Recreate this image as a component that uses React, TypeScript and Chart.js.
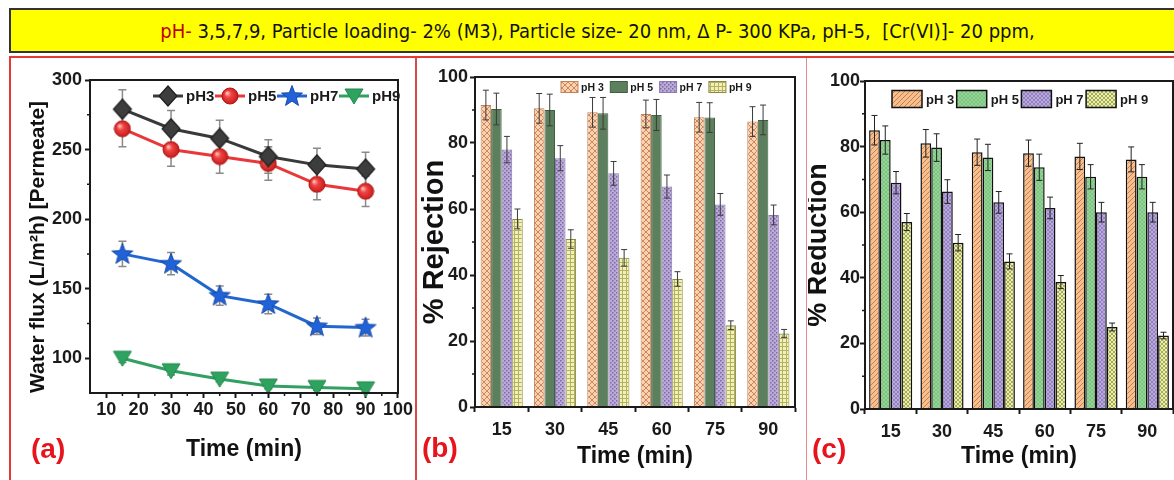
import React, { useEffect, useRef } from 'react';
import { Chart, registerables } from 'chart.js';

Chart.register(...registerables);

// ---------------- data ----------------
const TIME_MIN = [15, 30, 45, 60, 75, 90];
const TIME_LABELS = ['15', '30', '45', '60', '75', '90'];
const NAMES_A = ['pH3', 'pH5', 'pH7', 'pH9'];
const NAMES_BC = ['pH 3', 'pH 5', 'pH 7', 'pH 9'];

const FLUX_PH3 = [279, 265, 258, 245, 239, 236];
const FLUX_PH5 = [265, 250, 245, 240, 225, 220];
const FLUX_PH7 = [175, 168, 145, 139, 123, 122];
const FLUX_PH9 = [100, 91, 85, 80, 79, 78];
const FLUX_ERR_PH3 = [14, 13, 13, 12, 12, 12];
const FLUX_ERR_PH5 = [13, 12, 12, 12, 11, 11];
const FLUX_ERR_PH7 = [9, 8, 7, 7, 6, 6];
const FLUX_ERR_PH9 = [3, 3, 2, 2, 2, 2];

const REJ_PH3 = [91.5, 90.5, 89.3, 88.8, 87.8, 86.5];
const REJ_PH5 = [90.3, 90, 89, 88.5, 87.7, 87];
const REJ_PH7 = [78, 75.4, 70.8, 66.8, 61.4, 58.2];
const REJ_PH9 = [57, 50.9, 45.2, 38.8, 24.8, 22.3];
const REJ_ERR_PH3 = [4.5, 4.5, 4.5, 4.2, 4.5, 4.5];
const REJ_ERR_PH5 = [4.8, 4.8, 4.8, 4.7, 4.5, 4.5];
const REJ_ERR_PH7 = [4, 3.8, 3.6, 3.5, 3.3, 3];
const REJ_ERR_PH9 = [3, 2.8, 2.5, 2.2, 1.3, 1.2];

const RED_PH3 = [85, 81, 78.3, 78, 77, 76.1];
const RED_PH5 = [82, 79.7, 76.7, 73.7, 70.8, 70.8];
const RED_PH7 = [69, 66.3, 63, 61.3, 60, 60];
const RED_PH9 = [57, 50.7, 45, 38.7, 25, 22.4];
const RED_ERR_PH3 = [4.5, 4.2, 4, 4, 4, 3.8];
const RED_ERR_PH5 = [4.3, 4.2, 4, 4, 3.7, 3.7];
const RED_ERR_PH7 = [3.4, 3.6, 3.3, 3.3, 3, 3];
const RED_ERR_PH9 = [2.6, 2.5, 2.3, 2, 1.2, 1];

const FLUX_X_TICKS = [10, 20, 30, 40, 50, 60, 70, 80, 90, 100];
const FLUX_X_MINOR = [15, 25, 35, 45, 55, 65, 75, 85, 95];
const FLUX_Y_TICKS = [100, 150, 200, 250, 300];
const FLUX_Y_MINOR = [125, 175, 225, 275];
const PCT_Y_TICKS = [0, 20, 40, 60, 80, 100];
const PCT_Y_MINOR = [10, 30, 50, 70, 90];

const TITLE_RED = 'pH-';
const TITLE_REST = ' 3,5,7,9, Particle loading- 2% (M3), Particle size- 20 nm, \u0394 P- 300 KPa, pH-5,  [Cr(VI)]- 20 ppm,';

// ---------------- styling ----------------
const NARROW = "'Liberation Sans Narrow', 'Arial Narrow', 'DejaVu Sans Condensed', sans-serif";
const ARIAL = "'Liberation Sans', Arial, sans-serif";
const INK = '#1a1a1a';

function mk(w: number, h: number) {
  const c = document.createElement('canvas');
  c.width = w;
  c.height = h;
  return [c, c.getContext('2d') as CanvasRenderingContext2D] as const;
}

function markerDiamond() {
  const [c, g] = mk(22, 22);
  g.translate(11, 11);
  g.beginPath();
  g.moveTo(0, -10); g.lineTo(9, 0); g.lineTo(0, 10); g.lineTo(-9, 0); g.closePath();
  g.fillStyle = '#3d3d3d'; g.fill();
  g.strokeStyle = '#1f1f1f'; g.lineWidth = 1.2; g.stroke();
  return c;
}
function markerCircle() {
  const [c, g] = mk(18, 18);
  g.translate(9, 9);
  const gr = g.createRadialGradient(-3, -3, 0.5, 0, 0, 8.5);
  gr.addColorStop(0, '#ffc0b8');
  gr.addColorStop(0.35, '#f04444');
  gr.addColorStop(1, '#c21a1a');
  g.beginPath(); g.arc(0, 0, 8, 0, Math.PI * 2);
  g.fillStyle = gr; g.fill();
  g.strokeStyle = '#b01515'; g.lineWidth = 1; g.stroke();
  return c;
}
function markerStar() {
  const [c, g] = mk(24, 24);
  g.translate(12, 12.5);
  g.beginPath();
  for (let i = 0; i < 10; i++) {
    const r = i % 2 === 0 ? 11 : 4.6;
    const a = -Math.PI / 2 + (i * Math.PI) / 5;
    const x = r * Math.cos(a), y = r * Math.sin(a);
    if (i === 0) g.moveTo(x, y); else g.lineTo(x, y);
  }
  g.closePath();
  g.fillStyle = '#2062d8'; g.fill();
  g.strokeStyle = '#184aa8'; g.lineWidth = 1; g.stroke();
  return c;
}
function markerTriDown() {
  const [c, g] = mk(20, 18);
  g.translate(10, 9);
  g.beginPath();
  g.moveTo(-9, -7); g.lineTo(9, -7); g.lineTo(0, 8); g.closePath();
  g.fillStyle = '#2ea35f'; g.fill();
  g.strokeStyle = '#23884d'; g.lineWidth = 1; g.stroke();
  return c;
}

function pattern(ctx: CanvasRenderingContext2D, size: number, bg: string, draw: (g: CanvasRenderingContext2D, s: number) => void) {
  const [c, g] = mk(size, size);
  g.fillStyle = bg;
  g.fillRect(0, 0, size, size);
  draw(g, size);
  return ctx.createPattern(c, 'repeat') as CanvasPattern;
}
const crossDiag = (color: string, lw: number) => (g: CanvasRenderingContext2D, s: number) => {
  g.strokeStyle = color; g.lineWidth = lw;
  g.beginPath();
  g.moveTo(0, 0); g.lineTo(s, s);
  g.moveTo(s, 0); g.lineTo(0, s);
  g.stroke();
};
const slash = (color: string, lw: number) => (g: CanvasRenderingContext2D, s: number) => {
  g.strokeStyle = color; g.lineWidth = lw;
  g.beginPath();
  g.moveTo(0, s); g.lineTo(s, 0);
  g.moveTo(-1, 1); g.lineTo(1, -1);
  g.moveTo(s - 1, s + 1); g.lineTo(s + 1, s - 1);
  g.stroke();
};
const grid = (color: string) => (g: CanvasRenderingContext2D, s: number) => {
  g.fillStyle = color;
  g.fillRect(0, 0, s, 1);
  g.fillRect(0, 0, 1, s);
};
const dots = (color: string) => (g: CanvasRenderingContext2D) => {
  g.fillStyle = color;
  g.fillRect(0, 0, 1.5, 1.5);
  g.fillRect(2, 2, 1.5, 1.5);
};

// ---------------- plugins ----------------
function drawErrors(chart: any, o: any) {
  const ctx = chart.ctx;
  const ys = chart.scales.y;
  chart.data.datasets.forEach((ds: any, di: number) => {
    const errs = ds.errors;
    if (!errs) return;
    const meta = chart.getDatasetMeta(di);
    ctx.save();
    ctx.strokeStyle = o.errColor;
    ctx.lineWidth = o.errWidth;
    meta.data.forEach((el: any, i: number) => {
      const raw = ds.data[i];
      const v = typeof raw === 'number' ? raw : raw.y;
      const e = errs[i];
      const x = el.x;
      const yt = ys.getPixelForValue(v + e);
      const yb = ys.getPixelForValue(v - e);
      ctx.beginPath();
      ctx.moveTo(x, yt); ctx.lineTo(x, yb);
      ctx.moveTo(x - o.cap, yt); ctx.lineTo(x + o.cap, yt);
      ctx.moveTo(x - o.cap, yb); ctx.lineTo(x + o.cap, yb);
      ctx.stroke();
    });
    ctx.restore();
  });
}

const extrasPlugin = {
  id: 'extras',
  beforeDatasetsDraw(chart: any) {
    const o = chart.options.plugins.extras;
    if (o && o.errorsBehind) drawErrors(chart, o);
  },
  afterDatasetsDraw(chart: any) {
    const o = chart.options.plugins.extras;
    if (o && !o.errorsBehind) drawErrors(chart, o);
  },
  afterDraw(chart: any) {
    const o = chart.options.plugins.extras;
    if (!o) return;
    const ctx = chart.ctx;
    const a = chart.chartArea;
    // frame
    ctx.save();
    ctx.strokeStyle = INK;
    ctx.lineWidth = 2;
    ctx.strokeRect(a.left, a.top, a.right - a.left, a.bottom - a.top);
    // minor ticks
    ctx.lineWidth = 1.5;
    ctx.beginPath();
    (o.minorX || []).forEach((v: number) => {
      const x = chart.scales.x.getPixelForValue(v);
      ctx.moveTo(x, a.bottom); ctx.lineTo(x, a.bottom + 3);
    });
    (o.minorY || []).forEach((v: number) => {
      const y = chart.scales.y.getPixelForValue(v);
      ctx.moveTo(a.left, y); ctx.lineTo(a.left - 3, y);
    });
    ctx.stroke();
    // legend
    const L = o.legend;
    if (L) {
      ctx.font = `bold ${L.fontSize}px ${ARIAL}`;
      ctx.textBaseline = 'middle';
      ctx.textAlign = 'left';
      chart.data.datasets.forEach((ds: any, i: number) => {
        const x = L.x0 + i * L.dx;
        const y = L.y;
        if (L.kind === 'line') {
          ctx.strokeStyle = ds.borderColor;
          ctx.lineWidth = 3;
          ctx.beginPath(); ctx.moveTo(x, y); ctx.lineTo(x + L.lineLen, y); ctx.stroke();
          const img = ds.pointStyle;
          ctx.drawImage(img, x + L.lineLen / 2 - img.width / 2, y - img.height / 2);
          ctx.fillStyle = INK;
          ctx.fillText(ds.label, x + L.lineLen + 3, y + 1);
        } else {
          ctx.fillStyle = ds.backgroundColor;
          ctx.fillRect(x, y - L.boxH / 2, L.boxW, L.boxH);
          ctx.strokeStyle = L.boxBorder || ds.borderColor;
          ctx.lineWidth = L.boxBorderW;
          ctx.strokeRect(x, y - L.boxH / 2, L.boxW, L.boxH);
          ctx.fillStyle = INK;
          ctx.fillText(ds.label, x + L.boxW + L.gap, y + 1);
        }
      });
    }
    ctx.restore();
  },
};

const axisGrid = {
  drawOnChartArea: false,
  drawTicks: true,
  tickLength: 5,
  tickWidth: 2,
  tickColor: INK,
};
const axisBorder = { display: true, width: 2, color: INK };
const tickFont = { family: ARIAL, size: 18, weight: 'bold', lineHeight: 1.2 };
const timeTitleFont = { family: ARIAL, size: 23, weight: 'bold', lineHeight: 1 };

// ---------------- configs ----------------
function configFlux(): any {
  const mkPts = (arr: number[]) => TIME_MIN.map((t, i) => ({ x: t, y: arr[i] }));
  const sets = [
    { label: NAMES_A[0], data: mkPts(FLUX_PH3), errors: FLUX_ERR_PH3, borderColor: '#3a3a3a', pointStyle: markerDiamond() },
    { label: NAMES_A[1], data: mkPts(FLUX_PH5), errors: FLUX_ERR_PH5, borderColor: '#e8383a', pointStyle: markerCircle() },
    { label: NAMES_A[2], data: mkPts(FLUX_PH7), errors: FLUX_ERR_PH7, borderColor: '#2266d0', pointStyle: markerStar() },
    { label: NAMES_A[3], data: mkPts(FLUX_PH9), errors: FLUX_ERR_PH9, borderColor: '#32a060', pointStyle: markerTriDown() },
  ].map((d) => ({ ...d, borderWidth: 3, pointRadius: 8, tension: 0, clip: false, backgroundColor: d.borderColor }));
  return {
    type: 'line',
    data: { datasets: sets },
    options: {
      animation: false,
      responsive: false,
      events: [],
      layout: { padding: { left: 0, top: 22, right: 11, bottom: 0 } },
      plugins: {
        legend: { display: false },
        tooltip: { enabled: false },
        extras: {
          errorsBehind: true, errColor: '#8a8a8a', errWidth: 1.5, cap: 4,
          minorX: FLUX_X_MINOR, minorY: FLUX_Y_MINOR,
          legend: { kind: 'line', x0: 141, dx: 62, y: 38, lineLen: 30, fontSize: 15 },
        },
      },
      scales: {
        x: {
          type: 'linear', min: 5, max: 100,
          afterBuildTicks: (s: any) => { s.ticks = FLUX_X_TICKS.map((v) => ({ value: v })); },
          afterFit: (s: any) => { s.height = 87; },
          ticks: { font: tickFont, color: INK, padding: 1, maxRotation: 0, autoSkip: false },
          grid: axisGrid, border: axisBorder,
          title: { display: true, text: 'Time (min)', color: '#111', font: timeTitleFont, padding: { top: 0, bottom: 19 } },
        },
        y: {
          type: 'linear', min: 75, max: 300,
          afterBuildTicks: (s: any) => { s.ticks = FLUX_Y_TICKS.map((v) => ({ value: v })); },
          afterFit: (s: any) => { s.width = 78; },
          ticks: { font: tickFont, color: INK, padding: 3 },
          grid: axisGrid, border: axisBorder,
          title: { display: true, align: 'start', text: 'Water flux (L/m\u00b2h) [Permeate]', color: '#111', font: { family: ARIAL, size: 21, weight: 'bold', lineHeight: 1 }, padding: { top: 16, bottom: 0 } },
        },
      },
    },
    plugins: [extrasPlugin],
  };
}

function configBars(ctx: CanvasRenderingContext2D, which: 'b' | 'c'): any {
  const isB = which === 'b';
  const vals = isB ? [REJ_PH3, REJ_PH5, REJ_PH7, REJ_PH9] : [RED_PH3, RED_PH5, RED_PH7, RED_PH9];
  const errs = isB ? [REJ_ERR_PH3, REJ_ERR_PH5, REJ_ERR_PH7, REJ_ERR_PH9] : [RED_ERR_PH3, RED_ERR_PH5, RED_ERR_PH7, RED_ERR_PH9];
  const fills = isB
    ? [
        pattern(ctx, 6, '#f9d2b2', crossDiag('#cf8658', 1)),
        '#5c7f5d',
        pattern(ctx, 4, '#bcaad9', dots('#7d6aa6')),
        pattern(ctx, 4, '#f4f2b2', grid('#b3b06a')),
      ]
    : [
        pattern(ctx, 5, '#f7be8e', slash('#c5804c', 1)),
        pattern(ctx, 4, '#92d594', crossDiag('#79bd7b', 0.7)),
        pattern(ctx, 4, '#b9a9dc', crossDiag('#8977bb', 0.8)),
        pattern(ctx, 4, '#eef0a6', crossDiag('#9aa15a', 0.9)),
      ];
  const borders = isB ? ['#c0835a', '#3f5f40', '#8a7ab0', '#8a8a40'] : ['#111', '#111', '#111', '#111'];
  const datasets = vals.map((v, i) => ({
    label: NAMES_BC[i],
    data: v,
    errors: errs[i],
    backgroundColor: fills[i],
    borderColor: borders[i],
    borderWidth: isB ? 1 : 1.5,
    categoryPercentage: isB ? 0.79 : 0.84,
    barPercentage: 1,
  }));
  return {
    type: 'bar',
    data: { labels: TIME_LABELS, datasets },
    options: {
      animation: false,
      responsive: false,
      events: [],
      layout: { padding: isB ? { left: 0, top: 19, right: 11, bottom: 0 } : { left: 0, top: 23, right: 1, bottom: 0 } },
      plugins: {
        legend: { display: false },
        tooltip: { enabled: false },
        extras: {
          errorsBehind: false, errColor: isB ? '#3a3a3a' : '#222', errWidth: 1, cap: 3,
          minorY: PCT_Y_MINOR,
          legend: isB
            ? { kind: 'box', x0: 143, dx: 49.3, y: 29, boxW: 17, boxH: 11, gap: 3, boxBorderW: 1, fontSize: 10.5 }
            : { kind: 'box', x0: 84, dx: 64.7, y: 41, boxW: 30, boxH: 17, gap: 4, boxBorderW: 1.5, boxBorder: '#111', fontSize: 13 },
        },
      },
      scales: {
        x: {
          type: 'category',
          afterFit: (s: any) => { s.height = isB ? 73 : 71; },
          ticks: { font: tickFont, color: INK, padding: 7, maxRotation: 0, autoSkip: false },
          grid: { ...axisGrid, offset: true },
          border: axisBorder,
          title: { display: true, text: 'Time (min)', color: '#111', font: timeTitleFont, padding: { top: 0, bottom: 12 } },
        },
        y: {
          type: 'linear', min: 0, max: 100,
          afterBuildTicks: (s: any) => { s.ticks = PCT_Y_TICKS.map((v) => ({ value: v })); },
          afterFit: (s: any) => { s.width = 57; },
          ticks: { font: tickFont, color: INK, padding: isB ? 2 : 0 },
          grid: axisGrid, border: axisBorder,
          title: isB
            ? { display: true, text: '% Rejection', color: '#111', font: { family: ARIAL, size: 29, weight: 'bold', lineHeight: 1 }, padding: { top: 2.5, bottom: 0 } }
            : { display: true, text: '% Reduction', color: '#111', font: { family: ARIAL, size: 27, weight: 'bold', lineHeight: 0.8 }, padding: { top: 0, bottom: 0 } },
        },
      },
    },
    plugins: [extrasPlugin],
  };
}

// ---------------- component ----------------
const abs = (left: number, top: number, width: number, height: number, extra: any = {}) => ({
  position: 'absolute' as const, left, top, width, height, ...extra,
});

export default function App() {
  const ra = useRef<HTMLCanvasElement>(null);
  const rb = useRef<HTMLCanvasElement>(null);
  const rc = useRef<HTMLCanvasElement>(null);

  useEffect(() => {
    const a = new Chart(ra.current as HTMLCanvasElement, configFlux());
    const bctx = (rb.current as HTMLCanvasElement).getContext('2d') as CanvasRenderingContext2D;
    const b = new Chart(rb.current as HTMLCanvasElement, configBars(bctx, 'b'));
    const cctx = (rc.current as HTMLCanvasElement).getContext('2d') as CanvasRenderingContext2D;
    const c = new Chart(rc.current as HTMLCanvasElement, configBars(cctx, 'c'));
    return () => { a.destroy(); b.destroy(); c.destroy(); };
  }, []);

  const panelLabel = { color: '#e8141c', fontFamily: ARIAL, fontWeight: 'bold' as const, fontSize: 28, lineHeight: '30px' };

  return (
    <div style={abs(0, 0, 1174, 480, { overflow: 'hidden', background: '#ffffff' })}>
      {/* title bar */}
      <div
        style={abs(9, 8, 1175, 45, {
          background: '#ffff00', borderTop: '2px solid #333', borderLeft: '2px solid #333', borderBottom: '2px solid #333',
          boxSizing: 'border-box', display: 'flex', alignItems: 'center', justifyContent: 'center',
          fontFamily: NARROW, fontSize: 20, color: '#111', whiteSpace: 'pre',
        })}
      >
        <span style={{ color: '#c00000' }}>{TITLE_RED}</span>
        <span>{TITLE_REST}</span>
      </div>
      {/* red panel frames */}
      <div style={abs(9, 56, 1165, 2, { background: '#e53935' })} />
      <div style={abs(9, 56, 2, 424, { background: '#e53935' })} />
      <div style={abs(415, 58, 1.5, 422, { background: '#d84a4a' })} />
      <div style={abs(806, 58, 1, 422, { background: '#e88a8a' })} />
      {/* charts */}
      <canvas ref={ra} width={402} height={422} style={abs(12, 58, 402, 422)} />
      <canvas ref={rb} width={388} height={422} style={abs(418, 58, 388, 422)} />
      <canvas ref={rc} width={366} height={422} style={abs(808, 58, 366, 422)} />
      {/* panel labels */}
      <div style={abs(31, 434, 50, 30, panelLabel)}>(a)</div>
      <div style={abs(422, 433, 50, 30, panelLabel)}>(b)</div>
      <div style={abs(812, 434, 50, 30, panelLabel)}>(c)</div>
    </div>
  );
}
